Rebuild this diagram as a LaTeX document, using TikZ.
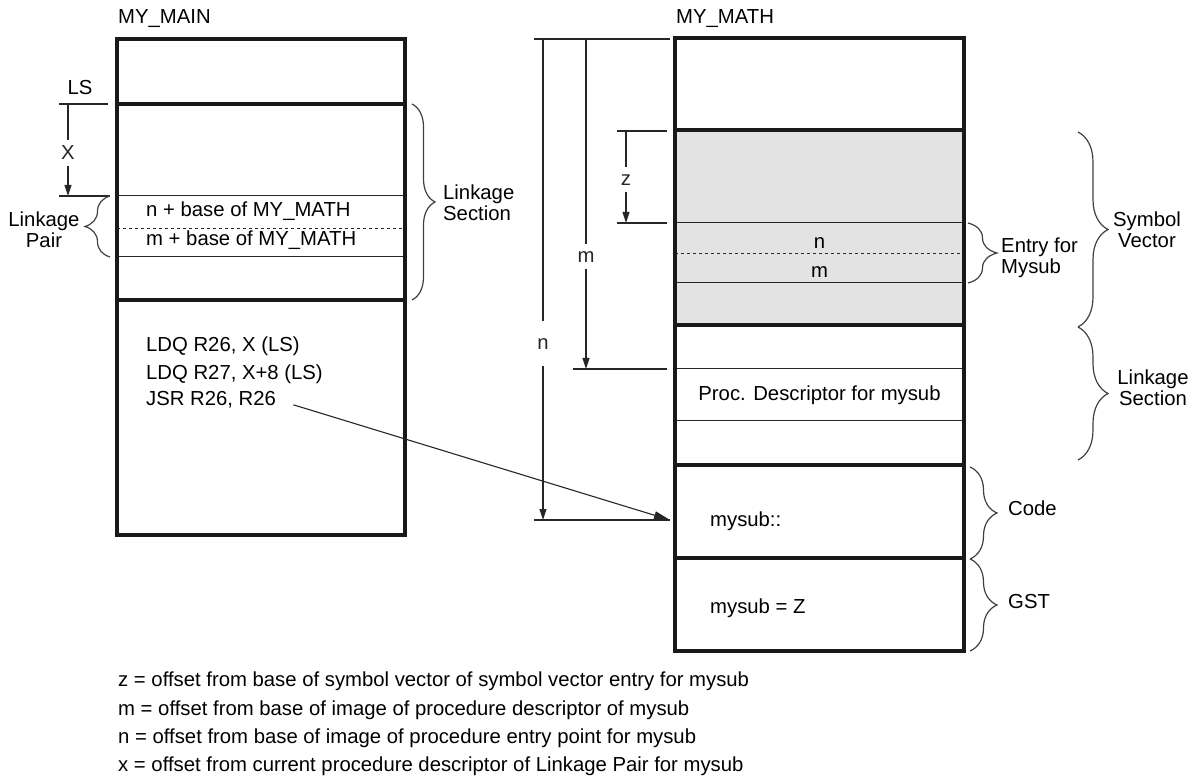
\documentclass[tikz,border=0pt]{standalone}
\usepackage{fontspec}
\setmainfont{Liberation Sans}
\usetikzlibrary{arrows.meta,decorations.pathreplacing}

\begin{document}
\begin{tikzpicture}[
  x=1pt, y=-1pt,
  every node/.style={font=\fontsize{20.3}{21}\selectfont, inner sep=1pt},
  wall/.style={line width=4.5pt, black!90},
  seg/.style={line width=1pt, black!85},
  halfseg/.style={line width=1pt, black!85, dash pattern=on 3pt off 3pt},
  tickline/.style={line width=1.1pt, black!85},
  dim/.style={line width=1.1pt, black!85, -{Triangle[length=11pt,width=7pt]}},
  gap/.style={fill=white, inner xsep=1pt, inner ysep=#1},
  gap/.default=7pt,
  bracket/.style={line width=1.2pt, black!75, decorate, decoration={brace, amplitude=#1}},
  bracket/.default=27pt,
  sidetext/.style={align=#1},
  sidetext/.default=center
]
  \useasboundingbox (0,0) rectangle (1197,783);

  % MY_MAIN image
  \node[anchor=mid west] (mainname) at (117,21) {MY\_MAIN};
  \draw[seg] (117,196) -- (405,196);
  \draw[seg] (117,257) -- (405,257);
  \draw[halfseg] (117,229) -- (405,229);
  \draw[wall] (117,104) -- (405,104);
  \draw[wall] (117,300) -- (405,300);
  \draw[wall] (117,39) rectangle (405,535);

  \node[anchor=mid west] (nbase) at (145,214) {n + base of MY\_MATH};
  \node[anchor=mid west] (mbase) at (145,243) {m + base of MY\_MATH};
  \node[anchor=mid west] (ldqa) at (145,349) {LDQ R26, X (LS)};
  \node[anchor=mid west] (ldqb) at (145,377) {LDQ R27, X+8 (LS)};
  \node[anchor=mid west] (jsr) at (145,403) {JSR R26, R26};

  % LS and X offset
  \node (ls) at (80,88) {LS};
  \coordinate (lsL) at (59,104);
  \coordinate (lsR) at (108,104);
  \coordinate (lpL) at (59,196);
  \coordinate (lpR) at (110,196);
  \coordinate (xtop) at (68,104);
  \coordinate (xbot) at (68,196);
  \draw[tickline] (lsL) -- (lsR);
  \draw[tickline] (lpL) -- (lpR);
  \draw[dim] (xtop) -- node[gap=6pt, pos=.53] (xlab) {X} (xbot);

  % braces of MY_MAIN
  \draw[bracket=25pt] (110,257) -- (110,196);
  \node[sidetext] (lpair) at (44,230) {Linkage\\Pair};
  \draw[bracket=23pt] (412,104) -- (412,300);
  \node[sidetext=left, anchor=west] (lsecmain) at (442,203) {Linkage\\Section};

  % MY_MATH image
  \node[anchor=mid west] (mathname) at (675,21) {MY\_MATH};
  \fill[black!11] (675,130) rectangle (964,325);
  \draw[seg] (675,223) -- (964,223);
  \draw[seg] (675,283) -- (964,283);
  \draw[seg] (675,369) -- (964,369);
  \draw[seg] (675,421) -- (964,421);
  \draw[halfseg] (675,254) -- (964,254);
  \draw[wall] (675,130) -- (964,130);
  \draw[wall] (675,325) -- (964,325);
  \draw[wall] (675,465) -- (964,465);
  \draw[wall] (675,558) -- (964,558);
  \draw[wall] (675,38) rectangle (964,651);

  \node (entryn) at (819.5,243) {n};
  \node (entrym) at (819.5,272) {m};
  \node (procdesc) at (819.5,395) {Proc. Descriptor for mysub};
  \node[anchor=mid west] (codelab) at (709,524) {mysub::};
  \node[anchor=mid west] (gstlab) at (709,611) {mysub = Z};

  % offsets n, m and z
  \coordinate (topL) at (534,39);
  \coordinate (topR) at (670,39);
  \coordinate (ntop) at (543,39);
  \coordinate (nbot) at (543,520);
  \coordinate (mtop) at (586,39);
  \coordinate (mbot) at (586,369);
  \coordinate (pdL) at (573,369);
  \coordinate (pdR) at (667,369);
  \coordinate (epL) at (534,520);
  \coordinate (epR) at (670,520);
  \coordinate (svL) at (617,131);
  \coordinate (svR) at (667,131);
  \coordinate (enL) at (617,223);
  \coordinate (enR) at (667,223);
  \coordinate (ztop) at (626,131);
  \coordinate (zbot) at (626,223);
  \draw[tickline] (topL) -- (topR);
  \draw[tickline] (pdL) -- (pdR);
  \draw[tickline] (epL) -- (epR);
  \draw[tickline] (svL) -- (svR);
  \draw[tickline] (enL) -- (enR);
  \draw[dim] (ntop) -- node[gap=17pt, pos=.634] (nlab) {n} (nbot);
  \draw[dim] (mtop) -- node[gap=7pt, pos=.66] (mlab) {m} (mbot);
  \draw[dim] (ztop) -- node[gap=7pt, pos=.53] (zlab) {z} (zbot);

  % call of mysub
  \draw[line width=1.1pt, black!85, -{Triangle[length=16pt,width=8pt]}, shorten <=17pt] (jsr.east) -- (epR);

  % braces of MY_MATH
  \draw[bracket=29pt] (968,223) -- (968,283);
  \node[sidetext=left, anchor=west] (entryfor) at (1000,258) {Entry for\\Mysub};
  \draw[bracket=30pt] (1078,132) -- (1078,327);
  \node[sidetext] (symvec) at (1147,230) {Symbol\\Vector};
  \draw[bracket=30pt] (1078,327) -- (1078,460);
  \node[sidetext] (lsecmath) at (1153,388) {Linkage\\Section};
  \draw[bracket] (970,467) -- (970,559);
  \node[anchor=mid west] (code) at (1007,513) {Code};
  \draw[bracket] (970,559) -- (970,651);
  \node[anchor=mid west] (gst) at (1007,606) {GST};

  % legend
  \node[anchor=mid west] (legz) at (117,684) {z = offset from base of symbol vector of symbol vector entry for mysub};
  \node[anchor=mid west] (legm) at (117,713) {m = offset from base of image of procedure descriptor of mysub};
  \node[anchor=mid west] (legn) at (117,741) {n = offset from base of image of procedure entry point for mysub};
  \node[anchor=mid west] (legx) at (117,769) {x = offset from current procedure descriptor of Linkage Pair for mysub};
\end{tikzpicture}
\end{document}
